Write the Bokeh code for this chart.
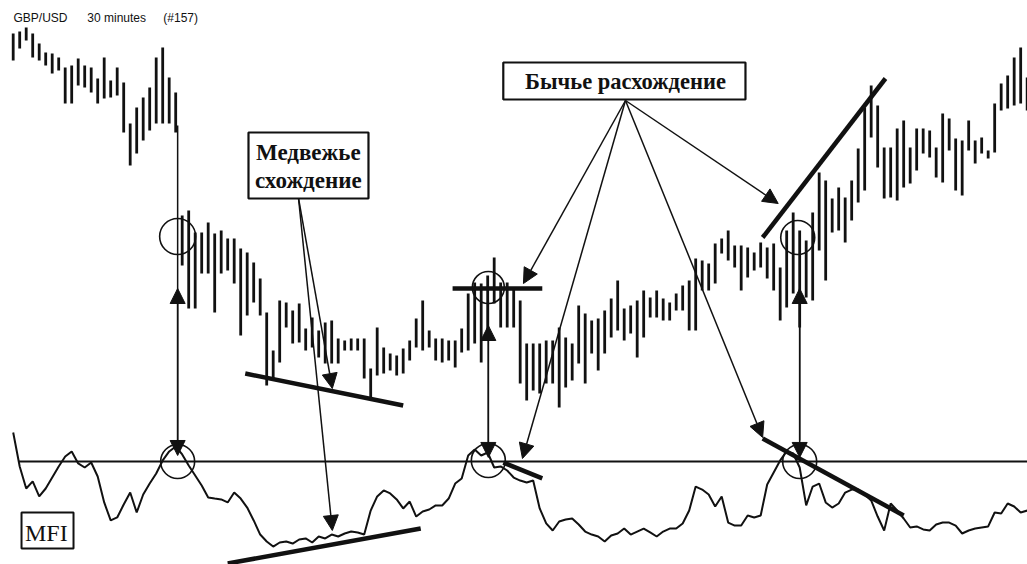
from bokeh.plotting import figure
from bokeh.models import Range1d, Arrow, NormalHead
from bokeh.core.properties import value
from bokeh.embed import file_html
from bokeh.resources import INLINE

# ---------------- data (price in relative points, MFI 0..100) ----------------
highs = [531, 533, 537, 531, 521, 512, 511, 507, 497, 499,
         506, 499, 497, 486, 507, 484, 497, 482, 441, 457,
         467, 477, 507, 517, 487, 472, 349, 354, 332, 332,
         342, 331, 334, 326, 326, 316, 312, 302, 286, 252,
         214, 264, 262, 254, 261, 236, 247, 234, 242, 244,
         226, 224, 226, 226, 226, 196, 237, 217, 211, 209,
         216, 224, 246, 264, 234, 226, 226, 224, 224, 236,
         271, 282, 281, 289, 307, 282, 282, 277, 264, 221,
         221, 221, 224, 224, 237, 227, 221, 259, 251, 244,
         246, 254, 266, 284, 256, 259, 264, 274, 267, 274,
         266, 262, 271, 279, 284, 306, 304, 301, 321, 326,
         334, 319, 319, 317, 312, 322, 317, 321, 297, 334,
         352, 334, 324, 352, 392, 384, 366, 377, 367, 384,
         416, 457, 479, 459, 417, 417, 436, 444, 417, 436,
         436, 434, 417, 451, 446, 426, 424, 444, 424, 427,
         414, 461, 481, 489, 507, 517, 487]
lows = [504, 516, 524, 507, 504, 499, 491, 494, 461, 461,
        479, 477, 472, 461, 466, 467, 469, 432, 399, 411,
        424, 434, 441, 441, 441, 432, 299, 256, 256, 291,
        291, 252, 291, 294, 281, 229, 249, 262, 249, 179,
        184, 202, 237, 221, 222, 214, 217, 207, 201, 201,
        201, 214, 214, 214, 186, 166, 189, 191, 194, 189,
        191, 204, 217, 214, 217, 204, 202, 204, 197, 212,
        214, 221, 202, 234, 261, 237, 237, 237, 181, 164,
        174, 171, 181, 181, 157, 177, 184, 201, 181, 211,
        194, 211, 227, 234, 224, 231, 207, 227, 247, 247,
        244, 244, 254, 254, 234, 234, 274, 274, 281, 311,
        304, 297, 274, 287, 294, 297, 286, 274, 244, 257,
        271, 237, 267, 264, 314, 284, 332, 334, 322, 344,
        362, 374, 427, 397, 366, 367, 364, 377, 381, 394,
        411, 407, 387, 382, 414, 374, 369, 414, 401, 411,
        406, 412, 454, 456, 459, 461, 454]
mfi = [99.3, 76.7, 62.0, 66.7, 56.7, 62.0, 69.3, 76.7, 83.3, 86.7,
       78.7, 76.0, 79.3, 70.0, 52.7, 40.7, 42.7, 51.3, 59.3, 46.0,
       58.0, 65.3, 72.0, 80.7, 86.7, 90.0, 84.7, 77.3, 70.7, 64.0,
       56.0, 55.3, 54.7, 52.7, 59.3, 55.3, 49.3, 40.7, 31.3, 26.7,
       23.3, 26.0, 26.7, 25.3, 28.0, 28.7, 26.0, 30.0, 28.7, 31.3,
       30.0, 32.0, 33.3, 32.7, 31.3, 47.3, 56.7, 60.7, 58.7, 54.7,
       48.7, 53.3, 43.3, 46.7, 48.0, 50.7, 50.7, 55.3, 65.3, 68.7,
       84.0, 88.0, 84.0, 86.0, 76.0, 76.7, 74.0, 69.3, 67.3, 66.0,
       67.3, 48.7, 38.7, 34.0, 40.0, 41.3, 42.0, 38.0, 33.3, 31.3,
       30.0, 26.7, 30.7, 32.0, 35.3, 31.3, 33.3, 35.3, 32.7, 30.0,
       33.3, 35.3, 35.3, 38.7, 47.3, 63.3, 61.3, 58.0, 50.0, 56.7,
       39.3, 37.3, 37.3, 44.0, 42.7, 44.0, 64.7, 72.7, 80.7, 86.7,
       85.3, 76.0, 50.7, 63.3, 65.3, 52.7, 49.3, 52.0, 59.3, 61.3,
       61.3, 58.0, 54.0, 43.3, 34.0, 52.0, 47.3, 42.0, 36.0, 36.7,
       34.7, 34.0, 38.0, 39.3, 39.3, 37.3, 32.0, 34.0, 35.3, 36.0,
       36.7, 46.0, 45.3, 52.0, 50.0, 46.0, 47.3]
bars = list(range(len(highs)))
mfi_level = 80

title_parts = ["GBP/USD", "30 minutes", "(#157)"]
bear_label = ["Медвежье", "схождение"]
bull_label = "Бычье расхождение"
mfi_label = "MFI"

# ---------------- canvas ----------------
P_LO, P_HI = 0, 564
M_LO, M_HI = 11.33, 387.33


def m2p(v):
    return P_LO + (v - M_LO) * (P_HI - P_LO) / (M_HI - M_LO)


p = figure(width=1027, height=564, output_backend="svg", toolbar_location=None,
           x_range=Range1d(-1.954, 156.05), y_range=Range1d(P_LO, P_HI),
           x_axis_location=None, y_axis_location=None, min_border=0)
p.extra_y_ranges = {"mfi": Range1d(M_LO, M_HI)}
p.grid.visible = False
p.outline_line_color = None
p.background_fill_color = "white"

INK = "#111111"
SERIF = value("Liberation Serif")

# price bars
p.segment(x0=bars, y0=lows, x1=bars, y1=highs, line_width=2.8, line_color=INK)

# MFI
p.segment(x0=[0.8], y0=[mfi_level], x1=[160], y1=[mfi_level], y_range_name="mfi",
          line_width=2.2, line_color=INK)
p.line(bars, mfi, y_range_name="mfi", line_width=2, line_color=INK)

# circles
p.scatter(x=[25.3, 73.1, 120.7], y=[328, 277, 327], size=[36, 32, 34], marker="circle",
          fill_color=None, line_color=INK, line_width=1.6)
p.scatter(x=[25.3, 73.1, 121.0], y=[80, 80.7, 80], size=[34, 34, 34], marker="circle",
          fill_color=None, line_color=INK, line_width=1.6, y_range_name="mfi")

# thick trend lines
p.segment(x0=[35.7, 115.3, 67.6], y0=[191, 327, 276], x1=[60.0, 134.2, 81.4], y1=[159, 486, 276],
          line_width=4.5, line_color=INK)
p.segment(x0=[33.0, 75.4, 115.3], y0=[12.0, 79.3, 95.3], x1=[62.7, 81.4, 137.0], y1=[35.3, 68.7, 44.0],
          line_width=4.5, line_color=INK, y_range_name="mfi")


def arrow(x0, y0, x1, y1, lw=1.5, size=15):
    p.add_layout(Arrow(end=NormalHead(size=size, fill_color=INK, line_color=INK, line_width=1),
                       x_start=x0, y_start=y0, x_end=x1, y_end=y1,
                       line_width=lw, line_color=INK))


# vertical links price <-> MFI
arrow(25.3, 439, 25.3, m2p(84.0))
arrow(25.3, m2p(90.7), 25.3, 276)
arrow(73.1, 264, 73.1, m2p(82.7))
arrow(73.1, m2p(90.0), 73.1, 239)
arrow(121.0, 276, 121.0, m2p(82.7))
arrow(121.0, m2p(94.0), 121.0, 276)

# bearish label arrows
arrow(43.9, 366, 49.1, 176)
arrow(43.9, 366, 49.1, m2p(34.0))
# bullish label arrows
arrow(94.2, 464, 78.5, 281)
arrow(94.2, 464, 78.35, m2p(82.0))
arrow(94.2, 464, 115.3, m2p(96.0))
arrow(94.2, 464, 117.7, 361)

# label boxes
p.quad(left=[36.2, 75.4], right=[54.66, 112.66], top=[432, 502], bottom=[366, 465],
       fill_color="white", line_color=INK, line_width=2.2)
p.quad(left=[1.28], right=[9.28], top=[46], bottom=[22], y_range_name="mfi",
       fill_color="white", line_color=INK, line_width=2)

p.text(x=[45.4, 45.4], y=[412, 384], text=bear_label, text_font=SERIF, text_font_size="23px",
       text_font_style="bold", text_align="center", text_baseline="alphabetic", text_color=INK)
p.text(x=[94.2], y=[483], text=[bull_label], text_font=SERIF, text_font_size="22.5px",
       text_font_style="bold", text_align="center", text_baseline="alphabetic", text_color=INK)
p.text(x=[5.1], y=[32.2], text=[mfi_label], y_range_name="mfi", text_font=SERIF,
       text_font_size="24px", text_align="center", text_baseline="alphabetic", text_color=INK)
p.text(x=[0.05, 11.4, 23.1], y=[547, 547, 547], text=title_parts,
       text_font=value("Liberation Sans"), text_font_size="12px",
       text_align="left", text_baseline="alphabetic", text_color=INK)

open("out.html", "w").write(file_html(p, INLINE))
